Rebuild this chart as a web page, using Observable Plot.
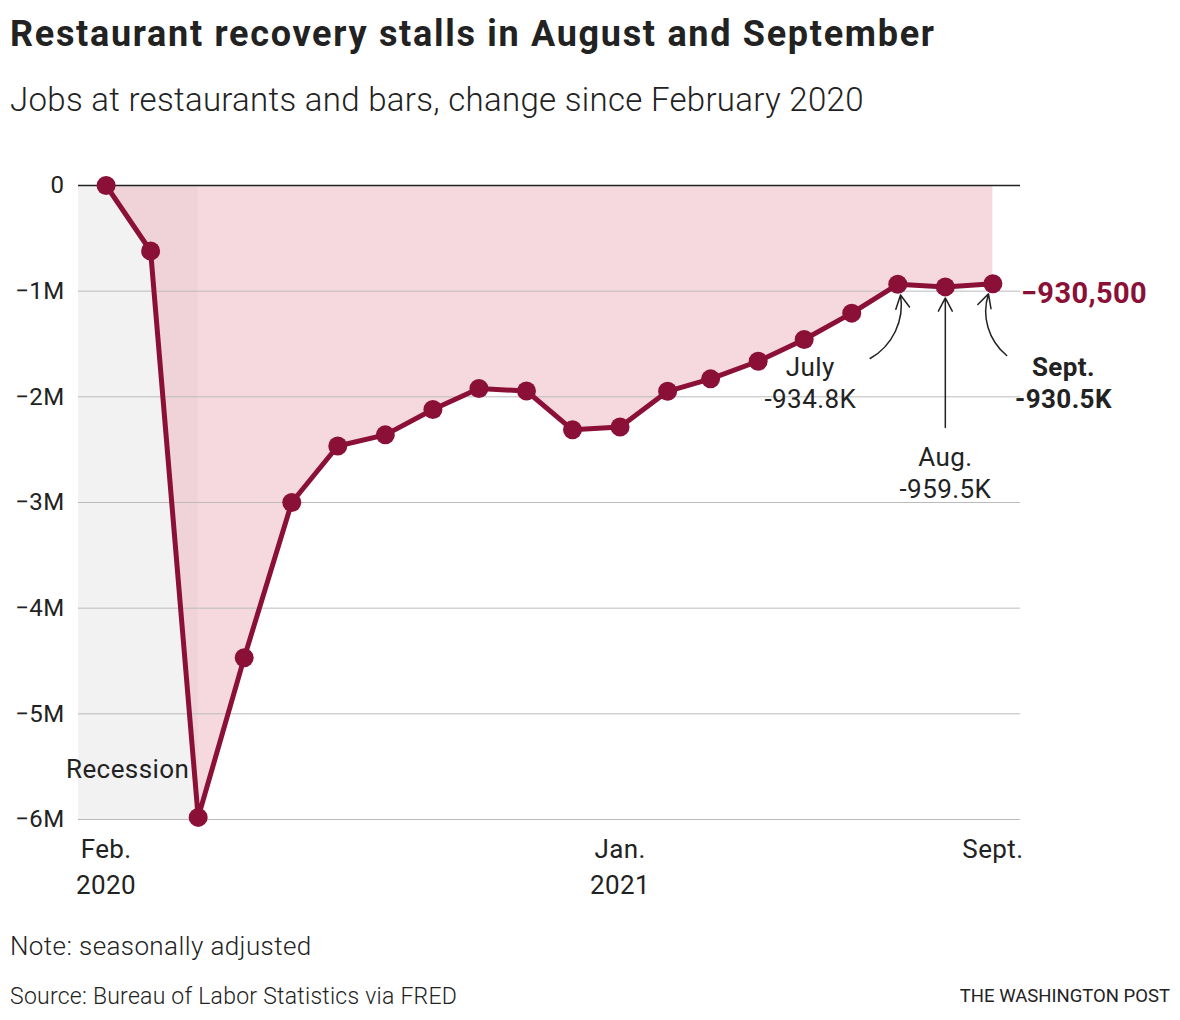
<!DOCTYPE html>
<html><head><meta charset="utf-8">
<script src="https://cdn.jsdelivr.net/npm/d3@7"></script>
<script src="https://cdn.jsdelivr.net/npm/@observablehq/plot@0.6"></script>
<style>
body{margin:0;background:#fff;font-family:Roboto,"Noto Sans",sans-serif;color:#222;}
#wrap{position:relative;width:1180px;height:1020px;overflow:hidden;}
.t{position:absolute;left:10px;white-space:nowrap;line-height:1;}
#title{top:16px;font-size:36px;font-weight:700;color:#222;letter-spacing:1.7px;}
#sub{top:83px;font-size:33px;font-weight:300;color:#222;letter-spacing:0.3px;}
#chart{position:absolute;left:0;top:130px;}
#note{top:933px;font-size:26px;font-weight:300;color:#222;letter-spacing:0.4px;}
#source{top:985px;font-size:23px;font-weight:300;color:#222;letter-spacing:0.25px;}
#wapo{position:absolute;right:10px;top:987px;font-size:18.5px;color:#222;line-height:1;}
</style></head>
<body><div id="wrap">
<div class="t" id="title">Restaurant recovery stalls in August and September</div>
<div class="t" id="sub">Jobs at restaurants and bars, change since February 2020</div>
<div id="chart"></div>
<div class="t" id="note">Note: seasonally adjusted</div>
<div class="t" id="source">Source: Bureau of Labor Statistics via FRED</div>
<div id="wapo">THE WASHINGTON POST</div>
</div>
<script>
const months = ["2020-02","2020-03","2020-04","2020-05","2020-06","2020-07","2020-08","2020-09","2020-10","2020-11","2020-12",
  "2021-01","2021-02","2021-03","2021-04","2021-05","2021-06","2021-07","2021-08","2021-09"];
const jobs = [0,-620000,-5980000,-4470000,-3000000,-2465000,-2360000,-2120000,-1922000,-1945000,-2312000,
  -2286000,-1948000,-1830000,-1663000,-1457000,-1208000,-934800,-959500,-930500];
const yTicks = [0,-1e6,-2e6,-3e6,-4e6,-5e6,-6e6];
const yTickLabels = ["0","−1M","−2M","−3M","−4M","−5M","−6M"];
const xTicks = ["2020-02-01","2021-01-01","2021-09-01"];
const xTickLabels = ["Feb.\n2020","Jan.\n2021","Sept."];
const xDomain = ["2020-01-14","2021-09-19"];
const recession = [{start:"2020-01-14", end:"2020-04-01", label:"Recession", labelY:-5.53e6}];
const lastLabel = "−930,500";
// annotations: label anchor, arrow tail, target month
const annText = ["July\n-934.8K","Aug.\n-959.5K","Sept.\n-930.5K"];
const annWeight = ["normal","normal","bold"];
const annLabelX = ["2021-05-05","2021-08-01","2021-10-17"];
const annLabelY = [-1.855e6,-2.707e6,-1.855e6];
const annTailX = ["2021-06-13","2021-08-01","2021-09-10"];
const annTailY = [-1.637e6,-2.29e6,-1.609e6];
const annTarget = ["2021-07","2021-08","2021-09"];
const annBend = [-40,0,40];

const data = months.map((m,i)=>({date:new Date(m+"-01"), jobs:jobs[i]}));
const rec = recession.map(r=>({start:new Date(r.start), end:new Date(r.end), label:r.label, labelY:r.labelY}));
const ann = annText.map((t,i)=>{
  const target = data.find(d=>+d.date===+new Date(annTarget[i]+"-01"));
  return {text:t, weight:annWeight[i], lx:new Date(annLabelX[i]), ly:annLabelY[i],
    tx:new Date(annTailX[i]), ty:annTailY[i], x2:target.date, y2:target.jobs, bend:annBend[i]};
});
const last = data[data.length-1];
const maroon = "#8b1038";

const chart = Plot.plot({
  width:1180, height:780,
  marginTop:55, marginBottom:91, marginLeft:78, marginRight:160,
  style:{fontFamily:"Roboto, 'Noto Sans', sans-serif", color:"#222", background:"#fff", overflow:"visible", letterSpacing:"0.4px"},
  x:{type:"utc", domain:xDomain.map(d=>new Date(d))},
  y:{domain:[-6e6,0]},
  marks:[
    Plot.rect(rec,{x1:"start", x2:"end", y1:0, y2:-6e6, fill:"#f2f2f2"}),
    Plot.areaY(data,{x:"date", y1:0, y2:"jobs", fill:"rgb(236,185,194)", fillOpacity:0.54}),
    Plot.ruleY(yTicks.slice(1),{stroke:"#bbb", strokeWidth:1}),
    Plot.ruleY([0],{stroke:"#222", strokeWidth:1.6}),
    Plot.axisY({ticks:yTicks, tickFormat:d=>yTickLabels[yTicks.indexOf(d)], tickSize:0, tickPadding:14, fontSize:24, label:null, fill:"#222"}),
    Plot.axisX({ticks:xTicks.map(d=>new Date(d)), tickFormat:d=>xTickLabels[xTicks.findIndex(t=>+new Date(t)===+d)], tickSize:0, tickPadding:14, fontSize:26, lineHeight:1.35, label:null, fill:"#222"}),
    Plot.text(rec,{x:"end", y:"labelY", text:"label", textAnchor:"end", dx:-9, fontSize:26, fill:"#222"}),
    Plot.line(data,{x:"date", y:"jobs", stroke:maroon, strokeWidth:5, strokeLinejoin:"round"}),
    Plot.dot(data,{x:"date", y:"jobs", r:9.5, fill:maroon}),
    ...ann.map(a=>Plot.arrow([a],{x1:"tx", y1:"ty", x2:"x2", y2:"y2", bend:a.bend, insetEnd:11, headLength:15, headAngle:55, stroke:"#222", strokeWidth:1.5})),
    ...ann.map(a=>Plot.text([a],{x:"lx", y:"ly", text:"text", lineHeight:1.23, fontSize:26, fontWeight:a.weight, fill:"#222"})),
    Plot.text([last],{x:"date", y:"jobs", text:()=>lastLabel, textAnchor:"start", dx:28, dy:10, fontSize:29, fontWeight:"bold", fill:maroon})
  ]
});
document.getElementById("chart").appendChild(chart);
</script>
</body></html>
